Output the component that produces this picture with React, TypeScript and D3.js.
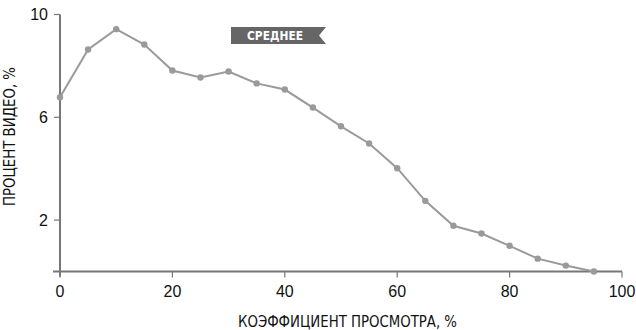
import React from "react";
import * as d3 from "d3";

const xValues = [0, 5, 10, 15, 20, 25, 30, 35, 40, 45, 50, 55, 60, 65, 70, 75, 80, 85, 90, 95];
const yValues = [6.78, 8.64, 9.43, 8.83, 7.82, 7.55, 7.78, 7.32, 7.08, 6.38, 5.65, 4.98, 4.02, 2.75, 1.78, 1.48, 1.0, 0.5, 0.23, 0.0];
const xTicks = [0, 20, 40, 60, 80, 100];
const yTicks = [2, 6, 10];
const xTitle = "КОЭФФИЦИЕНТ ПРОСМОТРА, %";
const yTitle = "ПРОЦЕНТ ВИДЕО, %";
const badgeText = "СРЕДНЕЕ";

const W = 636, H = 330;
const NARROW = "'Liberation Sans Narrow', 'DejaVu Sans Condensed', 'Liberation Sans', sans-serif";
const TICKF = "'Liberation Sans', 'Roboto', sans-serif";

export default function App() {
  const x = d3.scaleLinear().domain([0, 100]).range([60, 622]);
  const y = d3.scaleLinear().domain([0, 10]).range([271.5, 14.5]);
  const data = xValues.map((v, i) => ({ x: v, y: yValues[i] }));
  const line = d3.line<{ x: number; y: number }>().x(d => x(d.x)).y(d => y(d.y));
  const axisColor = "#777";
  const lineColor = "#9a9a9a";

  const bx0 = 231, bx1 = 326, by0 = 27, by1 = 44;
  const badgePath = `M${bx0},${by0}L${bx1},${by0}L${bx1 - 7},${(by0 + by1) / 2}L${bx1},${by1}L${bx0},${by1}Z`;

  return (
    <svg width={W} height={H} style={{ position: "absolute", left: 0, top: 0 }}>
      <rect width={W} height={H} fill="#fff" />
      <line x1={x(0)} x2={x(0)} y1={y(10)} y2={y(0) + 5} stroke={axisColor} strokeWidth={2} />
      <line x1={x(0) - 7} x2={x(100)} y1={y(0)} y2={y(0)} stroke={axisColor} strokeWidth={2} />
      {yTicks.map(t => (
        <g key={"yt" + t}>
          <line x1={x(0) - 6} x2={x(0)} y1={y(t)} y2={y(t)} stroke={axisColor} strokeWidth={1.2} />
          <text x={x(0) - 12} y={y(t)} dy="0.36em" textAnchor="end" fontFamily={TICKF} fontSize={16} fill="#111">{t}</text>
        </g>
      ))}
      {xTicks.map(t => (
        <g key={"xt" + t}>
          <line x1={x(t)} x2={x(t)} y1={y(0)} y2={y(0) + 6} stroke={axisColor} strokeWidth={1.2} />
          <text x={x(t)} y={291} dy="0.36em" textAnchor="middle" fontFamily={TICKF} fontSize={16} fill="#111">{t}</text>
        </g>
      ))}
      <text x={238} y={321} dy="0.36em" textAnchor="start" fontFamily={NARROW} fontSize={16} fill="#111" textLength={219} lengthAdjust="spacingAndGlyphs">{xTitle}</text>
      <text transform={`translate(10,206) rotate(-90)`} dy="0.36em" textAnchor="start" fontFamily={NARROW} fontSize={15} fill="#111" textLength={139} lengthAdjust="spacingAndGlyphs">{yTitle}</text>
      <path d={line(data) || ""} fill="none" stroke={lineColor} strokeWidth={2} />
      {data.map((d, i) => (
        <circle key={i} cx={x(d.x)} cy={y(d.y)} r={3.2} fill={lineColor} />
      ))}
      <path d={badgePath} fill="#666" />
      <text x={247} y={(by0 + by1) / 2} dy="0.36em" textAnchor="start" fontFamily={NARROW} fontSize={13} fontWeight="bold" fill="#fff" textLength={56} lengthAdjust="spacingAndGlyphs">{badgeText}</text>
    </svg>
  );
}
